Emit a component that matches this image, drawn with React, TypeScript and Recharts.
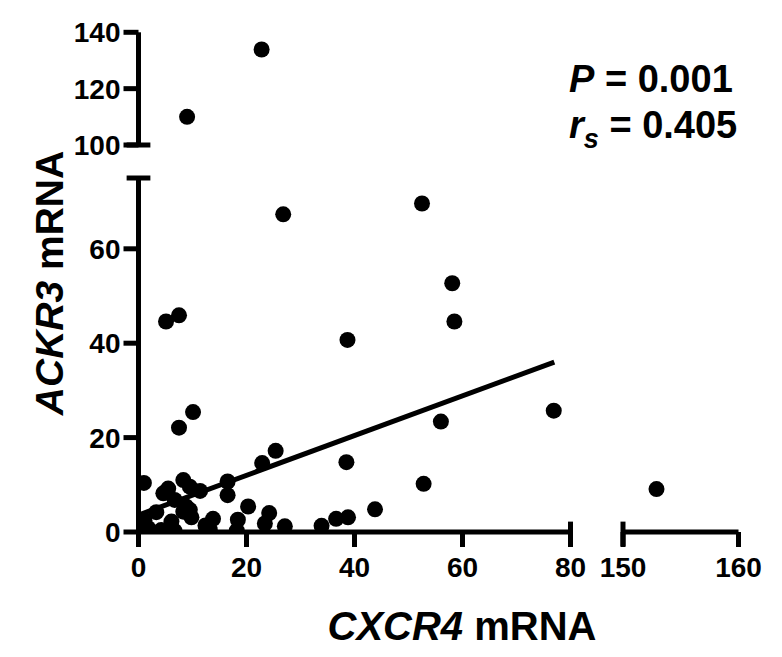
import React from 'react';
import { ScatterChart, Scatter, XAxis, YAxis, ReferenceLine } from 'recharts';

// CXCR4 (x) vs ACKR3 (y) mRNA — lower-left panel (x 0–80, y 0–75)
const lowX = [26.8, 52.5, 58.1, 58.5, 5.1, 7.5, 38.7, 10.1, 7.5, 56.0, 25.4, 22.9, 38.5, 52.8, 1.0, 43.8, 20.3, 38.8, 36.6, 33.9, 27.1, 24.2, 23.4, 18.4, 18.2, 16.5, 16.5, 13.8, 13.2, 12.4, 11.4, 8.3, 9.8, 5.5, 4.6, 9.5, 6.7, 8.8, 3.3, 1.1, 0.2, 1.8, 4.2, 6.1, 6.7, 9.5, 76.9, 8.3];
const lowY = [67.3, 69.6, 52.7, 44.6, 44.6, 45.9, 40.7, 25.4, 22.1, 23.4, 17.2, 14.6, 14.8, 10.2, 10.4, 4.8, 5.4, 3.1, 2.8, 1.3, 1.2, 4.0, 1.8, 2.6, 0.3, 10.7, 7.8, 2.8, 0.5, 1.4, 8.7, 11.0, 3.1, 9.2, 8.2, 9.6, 6.8, 5.4, 4.2, 2.5, 0.4, 0.8, 0.4, 2.2, 0.2, 4.7, 25.7, 4.3];
// upper panel (y 100–140)
const highX = [22.8, 9.0];
const highY = [133.9, 110.0];
// right panel (x 150–160)
const farX = [152.9];
const farY = [9.1];
// regression line
const fitX = [0, 77];
const fitY = [3.6, 36.0];

const xTicksLeft = [0, 20, 40, 60, 80];
const xTicksRight = [150, 160];
const yTicksLow = [0, 20, 40, 60];
const yTicksHigh = [100, 120, 140];

const lowData = lowX.map((x, i) => ({ x, y: lowY[i] }));
const highData = highX.map((x, i) => ({ x, y: highY[i] }));
const farData = farX.map((x, i) => ({ x, y: farY[i] }));

const FONT = '"Liberation Sans", Arial, Helvetica, sans-serif';
const W = 782;
const H = 657;
const SW = 5;

const tickStyle = { fill: '#000', fontSize: 28, fontWeight: 'bold' as const, fontFamily: FONT };
const lineStyle = { stroke: '#000', strokeWidth: SW };

const Dot = (p: any) => <circle cx={p.cx} cy={p.cy} r={8} fill="#000" />;

const abs: React.CSSProperties = { position: 'absolute', left: 0, top: 0 };

export default function App() {
  return (
    <div style={{ position: 'absolute', left: 0, top: 0, width: W, height: H, background: '#fff', overflow: 'hidden' }}>
      {/* Lower-left panel */}
      <div style={abs}>
        <ScatterChart width={W} height={H} margin={{ left: 78.5, right: 211.5, top: 178, bottom: 85 }}>
          <XAxis
            type="number" dataKey="x" domain={[0, 80]} ticks={xTicksLeft} allowDataOverflow
            height={40} axisLine={lineStyle} tickLine={lineStyle} tickSize={15} tickMargin={10} tick={tickStyle}
          />
          <YAxis
            type="number" dataKey="y" domain={[0, 75]} ticks={yTicksLow} allowDataOverflow
            width={60} axisLine={lineStyle} tickLine={lineStyle} tickSize={15} tickMargin={3} tick={tickStyle}
          />
          <ReferenceLine segment={[{ x: -2.2, y: 75 }, { x: 2.2, y: 75 }]} stroke="#000" strokeWidth={SW} ifOverflow="visible" />
          <ReferenceLine segment={[{ x: 80, y: -3.0 }, { x: 80, y: 2.2 }]} stroke="#000" strokeWidth={SW} ifOverflow="visible" />
          <ReferenceLine
            segment={[{ x: fitX[0], y: fitY[0] }, { x: fitX[1], y: fitY[1] }]}
            stroke="#000" strokeWidth={5} ifOverflow="visible"
          />
          <Scatter data={lowData} shape={Dot} isAnimationActive={false} />
        </ScatterChart>
      </div>

      {/* Upper-left panel */}
      <div style={abs}>
        <ScatterChart width={W} height={H} margin={{ left: 78.5, right: 211.5, top: 32.3, bottom: 472 }}>
          <XAxis type="number" dataKey="x" domain={[0, 80]} allowDataOverflow height={40} axisLine={false} tickLine={false} tick={false} />
          <YAxis
            type="number" dataKey="y" domain={[100, 140]} ticks={yTicksHigh} allowDataOverflow
            width={60} axisLine={lineStyle} tickLine={lineStyle} tickSize={15} tickMargin={3} tick={tickStyle}
          />
          <ReferenceLine segment={[{ x: -2.2, y: 100 }, { x: 2.2, y: 100 }]} stroke="#000" strokeWidth={SW} ifOverflow="visible" />
          <Scatter data={highData} shape={Dot} isAnimationActive={false} />
        </ScatterChart>
      </div>

      {/* Lower-right panel */}
      <div style={abs}>
        <ScatterChart width={W} height={H} margin={{ left: 563, right: 43.5, top: 178, bottom: 85 }}>
          <XAxis
            type="number" dataKey="x" domain={[150, 160]} ticks={xTicksRight} allowDataOverflow
            height={40} axisLine={lineStyle} tickLine={lineStyle} tickSize={15} tickMargin={10} tick={tickStyle}
          />
          <YAxis type="number" dataKey="y" domain={[0, 75]} allowDataOverflow width={60} axisLine={false} tickLine={false} tick={false} />
          <ReferenceLine segment={[{ x: 150, y: -3.0 }, { x: 150, y: 2.2 }]} stroke="#000" strokeWidth={SW} ifOverflow="visible" />
          <Scatter data={farData} shape={Dot} isAnimationActive={false} />
        </ScatterChart>
      </div>

      {/* Labels */}
      <svg width={W} height={H} style={{ ...abs, pointerEvents: 'none' }}>
        <g fontFamily={FONT} fontWeight="bold" fill="#000">
          <text x={462} y={640} fontSize={40} textAnchor="middle">
            <tspan fontStyle="italic">CXCR4</tspan>
            <tspan> mRNA</tspan>
          </text>
          <text transform="translate(63,283) rotate(-90)" fontSize={39} textAnchor="middle">
            <tspan fontStyle="italic">ACKR3</tspan>
            <tspan> mRNA</tspan>
          </text>
          <text x={569} y={92} fontSize={38}>
            <tspan fontStyle="italic">P</tspan>
            <tspan> = 0.001</tspan>
          </text>
          <text x={569} y={138} fontSize={38}>
            <tspan fontStyle="italic">r</tspan>
            <tspan fontStyle="italic" fontSize={27} dy={10}>s</tspan>
            <tspan dy={-10}> = 0.405</tspan>
          </text>
        </g>
      </svg>
    </div>
  );
}
